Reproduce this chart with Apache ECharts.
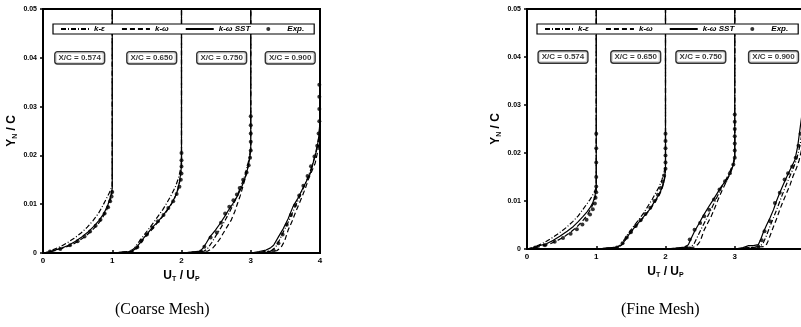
<!DOCTYPE html>
<html>
<head>
<meta charset="utf-8">
<script src="https://cdn.jsdelivr.net/npm/echarts/dist/echarts.min.js"></script>
<style>
  html, body { margin: 0; padding: 0; background: #fff; }
  #chart { width: 801px; height: 327px; }
</style>
</head>
<body>
<div id="chart"></div>
<script>
// tick labels
const xTickLabels = ['0', '1', '2', '3', '4'];
const yTickLabels = ['0', '0.01', '0.02', '0.03', '0.04', '0.05'];

const modelNames = ['k-ε', 'k-ω', 'k-ω SST', 'Exp.'];
const stationLabels = ['X/C = 0.574', 'X/C = 0.650', 'X/C = 0.750', 'X/C = 0.900'];
const captions = ['(Coarse Mesh)', '(Fine Mesh)'];

// profiles are plotted shifted by one unit each: [U_T/U_P + offset, Y_N/C]
// ---- coarse mesh ----
const coarseKE = [
  [[0,0],[0.07,0.0002],[0.15,0.0007],[0.25,0.0013],[0.35,0.0021],[0.45,0.0030],[0.55,0.0041],[0.64,0.0053],[0.72,0.0066],[0.80,0.0081],[0.86,0.0096],[0.91,0.0110],[0.96,0.0124],[1.0,0.0138],[1.0,0.05]],
  [[1.0,0],[1.15,0.0002],[1.27,0.0004],[1.32,0.0010],[1.38,0.0022],[1.45,0.0035],[1.52,0.0048],[1.59,0.0061],[1.66,0.0075],[1.73,0.0089],[1.79,0.0103],[1.85,0.0118],[1.91,0.0135],[1.96,0.0155],[1.99,0.0175],[2.0,0.019],[2.0,0.05]],
  [[2.0,0],[2.18,0.0002],[2.33,0.0004],[2.38,0.0010],[2.44,0.0022],[2.50,0.0036],[2.57,0.0052],[2.63,0.0067],[2.69,0.0083],[2.75,0.0100],[2.80,0.0116],[2.85,0.0134],[2.90,0.0152],[2.94,0.0172],[2.98,0.0195],[3.0,0.022],[3.0,0.05]],
  [[3.0,0],[3.15,0.0002],[3.30,0.0005],[3.36,0.0012],[3.42,0.0028],[3.48,0.0046],[3.55,0.0066],[3.62,0.0088],[3.69,0.0110],[3.75,0.0130],[3.81,0.0150],[3.87,0.0172],[3.92,0.0195],[3.96,0.022],[3.99,0.0245],[4.0,0.027],[4.0,0.05]]
];
const coarseKW = [
  [[0,0],[0.10,0.0002],[0.20,0.0006],[0.31,0.0011],[0.42,0.0017],[0.52,0.0025],[0.61,0.0034],[0.70,0.0045],[0.78,0.0057],[0.85,0.0070],[0.91,0.0085],[0.96,0.0102],[0.99,0.0118],[1.0,0.013],[1.0,0.05]],
  [[1.0,0],[1.2,0.0002],[1.31,0.0004],[1.36,0.0010],[1.41,0.0020],[1.48,0.0033],[1.56,0.0046],[1.63,0.0058],[1.70,0.0070],[1.77,0.0082],[1.84,0.0097],[1.90,0.0112],[1.95,0.0130],[1.98,0.015],[2.0,0.0175],[2.0,0.05]],
  [[2.0,0],[2.2,0.0002],[2.38,0.0004],[2.45,0.0010],[2.51,0.0020],[2.56,0.0030],[2.60,0.0040],[2.66,0.0054],[2.72,0.0068],[2.77,0.0085],[2.81,0.0102],[2.85,0.0118],[2.89,0.0138],[2.93,0.0158],[2.97,0.0182],[3.0,0.021],[3.0,0.05]],
  [[3.0,0],[3.2,0.0002],[3.38,0.0005],[3.44,0.0012],[3.49,0.0025],[3.54,0.0047],[3.60,0.0066],[3.64,0.0081],[3.69,0.0098],[3.74,0.0115],[3.79,0.0133],[3.83,0.015],[3.88,0.0167],[3.93,0.0184],[3.97,0.021],[4.0,0.025],[4.0,0.05]]
];
const coarseSST = [
  [[0,0],[0.08,0.0002],[0.17,0.0006],[0.27,0.0010],[0.37,0.0016],[0.47,0.0024],[0.56,0.0033],[0.65,0.0043],[0.73,0.0054],[0.81,0.0067],[0.88,0.0081],[0.94,0.0100],[0.98,0.0118],[1.0,0.0132],[1.0,0.05]],
  [[1.0,0],[1.15,0.0002],[1.28,0.0003],[1.33,0.0008],[1.37,0.0015],[1.45,0.003],[1.52,0.0042],[1.59,0.0054],[1.67,0.0066],[1.74,0.0078],[1.80,0.009],[1.86,0.0102],[1.93,0.0122],[1.97,0.0145],[1.99,0.0165],[2.0,0.018],[2.0,0.05]],
  [[2.0,0],[2.15,0.0002],[2.27,0.0004],[2.31,0.0010],[2.36,0.0021],[2.41,0.0033],[2.49,0.0047],[2.56,0.0061],[2.62,0.0074],[2.68,0.0088],[2.74,0.0101],[2.80,0.0115],[2.86,0.0132],[2.91,0.015],[2.95,0.017],[2.98,0.019],[3.0,0.021],[3.0,0.05]],
  [[3.0,0],[3.12,0.0003],[3.22,0.0006],[3.28,0.0010],[3.33,0.0016],[3.40,0.0033],[3.47,0.0050],[3.54,0.0070],[3.61,0.0095],[3.68,0.0112],[3.74,0.0129],[3.80,0.0146],[3.86,0.0163],[3.90,0.0184],[3.95,0.021],[3.98,0.0235],[4.0,0.027],[4.0,0.05]]
];
const coarseExp = [
  [[0.1,0.0003],[0.25,0.0008],[0.39,0.0016],[0.5,0.0024],[0.6,0.0034],[0.68,0.0044],[0.76,0.0056],[0.83,0.0068],[0.89,0.0081],[0.94,0.0094],[0.97,0.0106],[0.99,0.0116],[1.0,0.0125]],
  [[1.28,0.0003],[1.36,0.0012],[1.42,0.0025],[1.5,0.0038],[1.58,0.0052],[1.66,0.0065],[1.74,0.0078],[1.81,0.0092],[1.88,0.0106],[1.93,0.0121],[1.97,0.0136],[1.99,0.015],[2.0,0.0163],[2.0,0.0177],[2.0,0.019],[2.0,0.0205]],
  [[2.28,0.0003],[2.33,0.0013],[2.42,0.0032],[2.51,0.0042],[2.57,0.0062],[2.63,0.0081],[2.69,0.0095],[2.75,0.0108],[2.8,0.012],[2.84,0.0133],[2.89,0.015],[2.94,0.0165],[2.97,0.018],[2.99,0.0195],[3.0,0.021],[3.0,0.0228],[3.0,0.0245],[3.0,0.0262],[3.0,0.028]],
  [[3.33,0.0005],[3.4,0.002],[3.46,0.0038],[3.52,0.0058],[3.58,0.0078],[3.64,0.0098],[3.7,0.0118],[3.76,0.0138],[3.82,0.0158],[3.87,0.0178],[3.92,0.0198],[3.96,0.022],[3.98,0.0245],[3.99,0.027],[3.99,0.0295],[3.99,0.032],[3.99,0.0345]]
];

// ---- fine mesh ----
const fineKE = [
  [[0,0],[0.08,0.0003],[0.17,0.0008],[0.27,0.0015],[0.37,0.0024],[0.47,0.0034],[0.57,0.0045],[0.66,0.0057],[0.74,0.0069],[0.8,0.0081],[0.86,0.0093],[0.91,0.0103],[0.94,0.011],[0.97,0.0118],[1.0,0.0128],[1.0,0.05]],
  [[1.0,0],[1.17,0.0002],[1.31,0.0004],[1.36,0.001],[1.42,0.0023],[1.48,0.0036],[1.55,0.0049],[1.62,0.0062],[1.69,0.0076],[1.75,0.009],[1.81,0.0104],[1.86,0.0117],[1.91,0.013],[1.95,0.0145],[1.98,0.016],[2.0,0.0175],[2.0,0.05]],
  [[2.0,0],[2.2,0.0002],[2.36,0.0004],[2.41,0.001],[2.46,0.0025],[2.51,0.004],[2.57,0.0057],[2.63,0.0074],[2.69,0.0092],[2.75,0.011],[2.8,0.0126],[2.86,0.0141],[2.91,0.0155],[2.95,0.0168],[2.98,0.018],[3.0,0.0195],[3.0,0.05]],
  [[3.0,0],[3.2,0.0003],[3.36,0.0005],[3.41,0.0012],[3.45,0.0025],[3.5,0.0044],[3.55,0.0062],[3.6,0.008],[3.65,0.0099],[3.7,0.0118],[3.75,0.0136],[3.8,0.0153],[3.85,0.017],[3.9,0.019],[3.94,0.0215],[3.97,0.024],[4.0,0.028],[4.0,0.05]]
];
const fineKW = [
  [[0,0],[0.1,0.0002],[0.21,0.0006],[0.32,0.001],[0.43,0.0017],[0.53,0.0025],[0.63,0.0035],[0.72,0.0046],[0.8,0.0058],[0.87,0.0071],[0.92,0.0083],[0.96,0.0096],[0.99,0.011],[1.0,0.012],[1.0,0.05]],
  [[1.0,0],[1.2,0.0002],[1.33,0.0004],[1.39,0.0012],[1.45,0.0025],[1.52,0.0038],[1.59,0.005],[1.66,0.0062],[1.73,0.0074],[1.8,0.0087],[1.86,0.01],[1.92,0.0115],[1.96,0.013],[1.99,0.0148],[2.0,0.0165],[2.0,0.05]],
  [[2.0,0],[2.25,0.0002],[2.42,0.0004],[2.47,0.0010],[2.5,0.0016],[2.56,0.004],[2.61,0.0054],[2.66,0.0068],[2.71,0.0085],[2.76,0.0103],[2.81,0.012],[2.86,0.0135],[2.91,0.015],[2.95,0.0164],[2.98,0.0178],[3.0,0.019],[3.0,0.05]],
  [[3.0,0],[3.25,0.0003],[3.42,0.0005],[3.46,0.001],[3.48,0.0016],[3.56,0.0047],[3.61,0.0065],[3.65,0.0082],[3.7,0.01],[3.75,0.0117],[3.8,0.0134],[3.84,0.0151],[3.89,0.0168],[3.93,0.0185],[3.97,0.021],[4.0,0.024],[4.0,0.05]]
];
const fineSST = [
  [[0,0],[0.09,0.0003],[0.18,0.0007],[0.28,0.0011],[0.38,0.0018],[0.48,0.0027],[0.58,0.0037],[0.67,0.0047],[0.74,0.0057],[0.81,0.0068],[0.87,0.0078],[0.91,0.0086],[0.95,0.0096],[0.98,0.011],[1.0,0.0125],[1.0,0.05]],
  [[1.0,0],[1.15,0.0002],[1.3,0.0004],[1.37,0.0009],[1.43,0.0021],[1.49,0.0034],[1.56,0.0046],[1.63,0.0058],[1.7,0.007],[1.77,0.0082],[1.83,0.0096],[1.89,0.011],[1.94,0.0124],[1.97,0.0138],[1.99,0.0152],[2.0,0.0165],[2.0,0.05]],
  [[2.0,0],[2.15,0.0002],[2.28,0.0004],[2.33,0.0009],[2.37,0.0022],[2.42,0.0037],[2.48,0.0052],[2.54,0.0068],[2.61,0.0085],[2.69,0.0103],[2.75,0.0117],[2.81,0.0131],[2.87,0.0142],[2.91,0.0151],[2.95,0.0163],[2.98,0.0176],[3.0,0.019],[3.0,0.05]],
  [[3.0,0],[3.12,0.0003],[3.2,0.0007],[3.27,0.0007],[3.34,0.0009],[3.38,0.0022],[3.41,0.0034],[3.46,0.005],[3.51,0.0065],[3.56,0.0082],[3.6,0.0099],[3.65,0.0117],[3.7,0.0134],[3.75,0.015],[3.8,0.0165],[3.87,0.0186],[3.91,0.0215],[3.94,0.0248],[3.97,0.028],[4.0,0.031],[4.0,0.05]]
];
const fineExp = [
  [[0.12,0.0003],[0.26,0.0008],[0.4,0.0015],[0.52,0.0023],[0.63,0.0032],[0.72,0.0041],[0.8,0.0051],[0.86,0.0061],[0.91,0.0072],[0.95,0.0083],[0.98,0.0095],[0.99,0.0107],[1.0,0.0118],[1.0,0.013],[1.0,0.015],[1.0,0.018],[1.0,0.021],[1.0,0.024]],
  [[1.3,0.0003],[1.38,0.0012],[1.44,0.0024],[1.5,0.0035],[1.57,0.0048],[1.64,0.006],[1.71,0.0073],[1.78,0.0086],[1.84,0.01],[1.89,0.0113],[1.93,0.0127],[1.96,0.014],[1.98,0.0153],[2.0,0.0167],[2.0,0.018],[2.0,0.0195],[2.0,0.021],[2.0,0.0225],[2.0,0.024]],
  [[2.3,0.0003],[2.35,0.002],[2.42,0.004],[2.5,0.0054],[2.56,0.0068],[2.63,0.0082],[2.7,0.0103],[2.78,0.0124],[2.86,0.0141],[2.93,0.0158],[2.98,0.0176],[3.0,0.019],[3.0,0.0205],[3.0,0.022],[3.0,0.0235],[3.0,0.025],[3.0,0.0265],[3.0,0.028]],
  [[3.34,0.0005],[3.39,0.0018],[3.43,0.0037],[3.51,0.0058],[3.58,0.0096],[3.65,0.0117],[3.72,0.0145],[3.77,0.0158],[3.83,0.0172],[3.88,0.019],[3.92,0.0215],[3.95,0.024]]
];

// where the X/C boxes sit, in data units
const coarseLabelAt = [[0.53, 0.04], [1.57, 0.04], [2.58, 0.04], [3.57, 0.04]];
const fineLabelAt = [[0.52, 0.04], [1.57, 0.04], [2.51, 0.04], [3.56, 0.04]];

const FONT = 'Liberation Sans';
const dashes = [[5, 2, 1, 2], [5, 3], 'solid'];

function panelSeries(gi, lineSets, exp, labelAt) {
  const out = [];
  lineSets.forEach((profiles, m) => {
    profiles.forEach(p => {
      out.push({
        type: 'line', name: modelNames[m], xAxisIndex: gi, yAxisIndex: gi,
        data: p, symbol: 'none', silent: true, z: 2,
        lineStyle: { color: '#000', width: 1.2, type: dashes[m] },
        itemStyle: { color: '#000' }
      });
    });
  });
  out.push({
    type: 'scatter', name: modelNames[3], xAxisIndex: gi, yAxisIndex: gi,
    data: exp.flat(), symbolSize: 4, itemStyle: { color: '#000' }, z: 3, silent: true
  });
  // X/C station boxes
  out.push({
    type: 'scatter', name: 'station', xAxisIndex: gi, yAxisIndex: gi,
    data: labelAt, symbolSize: 1, itemStyle: { color: 'rgba(0,0,0,0)' }, z: 4, silent: true,
    label: {
      show: true, position: 'inside',
      formatter: p => stationLabels[p.dataIndex],
      fontFamily: FONT, fontSize: 8, fontWeight: 'bold', color: '#000',
      backgroundColor: '#fff', borderColor: '#000', borderWidth: 1.4, borderRadius: 2,
      padding: [2, 3, 1, 3]
    }
  });
  return out;
}

function xAxisFor(gi) {
  return {
    type: 'value', gridIndex: gi, min: 0, max: 4, interval: 1,
    axisLine: { lineStyle: { color: '#000', width: 2 } },
    axisTick: { inside: true, length: 3, lineStyle: { color: '#000', width: 1.5 } },
    axisLabel: { formatter: v => xTickLabels[Math.round(v)], color: '#000', fontFamily: FONT, fontSize: 8, fontWeight: 'bold', margin: 4 },
    splitLine: { show: false },
    name: '{m|U}{s|T}{m| / U}{s|P}', nameLocation: 'middle', nameGap: 15,
    nameTextStyle: {
      rich: {
        m: { fontFamily: FONT, fontSize: 12, fontWeight: 'bold', color: '#000', lineHeight: 14 },
        s: { fontFamily: FONT, fontSize: 7, fontWeight: 'bold', color: '#000', verticalAlign: 'bottom', lineHeight: 14 }
      }
    }
  };
}

function yAxisFor(gi) {
  return {
    type: 'value', gridIndex: gi, min: 0, max: 0.05, interval: 0.01,
    axisLine: { lineStyle: { color: '#000', width: 2 } },
    axisTick: { inside: false, length: 3, lineStyle: { color: '#000', width: 1.5 } },
    axisLabel: { formatter: v => yTickLabels[Math.round(v / 0.01)], color: '#000', fontFamily: FONT, fontSize: 7, fontWeight: 'bold', margin: 6 },
    splitLine: { show: false },
    name: '{m|Y}{s|N}{m| / C}', nameLocation: 'middle', nameGap: 24, nameRotate: 90,
    nameTextStyle: {
      rich: {
        m: { fontFamily: FONT, fontSize: 12, fontWeight: 'bold', color: '#000', lineHeight: 14 },
        s: { fontFamily: FONT, fontSize: 7, fontWeight: 'bold', color: '#000', verticalAlign: 'bottom', lineHeight: 14 }
      }
    }
  };
}

function legendFor(left) {
  // hide the marker that line series put in the middle of their legend icon
  const items = modelNames.map((n, i) => i < 3 ? { name: n, itemStyle: { opacity: 0 } } : { name: n });
  return {
    data: items, left: left, top: 24, orient: 'horizontal',
    itemWidth: 28, itemHeight: 4, itemGap: 16, selectedMode: false,
    padding: [1, 10, 1, 7],
    borderColor: '#000', borderWidth: 1.2, backgroundColor: '#fff',
    textStyle: { fontFamily: FONT, fontSize: 8, fontWeight: 'bold', fontStyle: 'italic', color: '#000' }
  };
}

const chart = echarts.init(document.getElementById('chart'));

chart.setOption({
  animation: false,
  backgroundColor: '#fff',
  title: captions.map((t, i) => ({
    text: t, left: [115, 621][i], top: 302, padding: 0,
    textStyle: { fontFamily: 'Liberation Serif', fontSize: 16, fontWeight: 'normal', color: '#000' }
  })),
  legend: [legendFor(53), legendFor(537)],
  grid: [
    { left: 43, top: 9, width: 277, height: 244, show: true, borderColor: '#000', borderWidth: 2, containLabel: false, outerBoundsMode: 'none' },
    { left: 527, top: 9, width: 277, height: 240, show: true, borderColor: '#000', borderWidth: 2, containLabel: false, outerBoundsMode: 'none' }
  ],
  xAxis: [xAxisFor(0), xAxisFor(1)],
  yAxis: [yAxisFor(0), yAxisFor(1)],
  series: [
    ...panelSeries(0, [coarseKE, coarseKW, coarseSST], coarseExp, coarseLabelAt),
    ...panelSeries(1, [fineKE, fineKW, fineSST], fineExp, fineLabelAt)
  ]
});
</script>
</body>
</html>
